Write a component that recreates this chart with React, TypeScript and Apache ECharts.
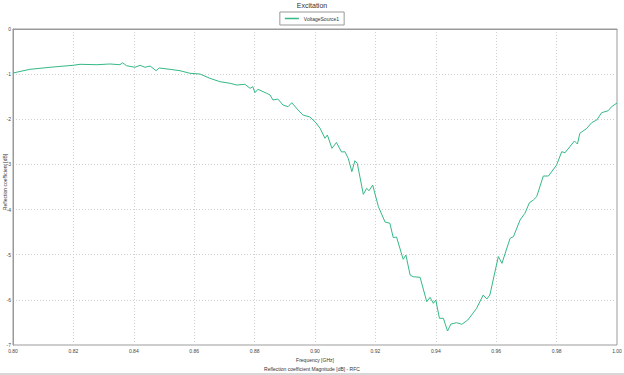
import React, { useEffect, useRef } from "react";
import * as echarts from "echarts";

const freqs = [
  0.8, 0.8056, 0.8123, 0.8199, 0.8222, 0.8278, 0.8321, 0.8354, 0.8363, 0.8376,
  0.8404, 0.8421, 0.8437, 0.8454, 0.8474, 0.8484, 0.852, 0.8553, 0.8586, 0.8619,
  0.8652, 0.8685, 0.8719, 0.8741, 0.8768, 0.8785, 0.8794, 0.8801, 0.8811, 0.884,
  0.8851, 0.8861, 0.8877, 0.8894, 0.8911, 0.8923, 0.8944, 0.896, 0.8983, 0.9,
  0.9017, 0.9033, 0.9041, 0.9056, 0.9071, 0.9088, 0.9099, 0.911, 0.9122, 0.9132,
  0.914, 0.916, 0.9171, 0.9179, 0.9191, 0.921, 0.9232, 0.9248, 0.9259, 0.927,
  0.9292, 0.9301, 0.9315, 0.9325, 0.9348, 0.937, 0.9381, 0.9392, 0.94, 0.9412,
  0.9425, 0.9439, 0.945, 0.9469, 0.9486, 0.9506, 0.9535, 0.9557, 0.9569, 0.9579,
  0.9607, 0.9619, 0.9646, 0.9657, 0.9679, 0.9695, 0.971, 0.9723, 0.9734, 0.9756,
  0.9773, 0.98, 0.9817, 0.9828, 0.9859, 0.9869, 0.9877, 0.99, 0.9916, 0.9933,
  0.9949, 0.9971, 0.9982, 1.0,
];

const magnitudes = [
  -0.975, -0.893, -0.848, -0.804, -0.782, -0.791, -0.775, -0.791, -0.747, -0.813,
  -0.848, -0.804, -0.848, -0.82, -0.924, -0.864, -0.893, -0.924, -0.981, -0.997,
  -1.092, -1.167, -1.203, -1.241, -1.225, -1.314, -1.278, -1.411, -1.336, -1.424,
  -1.462, -1.573, -1.551, -1.684, -1.721, -1.633, -1.794, -1.905, -1.95, -2.054,
  -2.2, -2.421, -2.348, -2.643, -2.514, -2.725, -2.718, -2.864, -3.161, -2.918,
  -2.975, -3.662, -3.529, -3.582, -3.456, -3.937, -4.276, -4.304, -4.619, -4.608,
  -5.102, -5.007, -5.45, -5.487, -5.501, -6.041, -5.944, -6.077, -6.004, -6.409,
  -6.409, -6.69, -6.535, -6.506, -6.542, -6.447, -6.188, -5.893, -5.981, -5.893,
  -5.04, -5.191, -4.637, -4.601, -4.231, -4.083, -3.848, -3.788, -3.715, -3.257,
  -3.257, -3.013, -2.718, -2.74, -2.481, -2.548, -2.311, -2.2, -2.076, -2.016,
  -1.854, -1.81, -1.721, -1.639,
];

const chartTitle = "Excitation";
const seriesName = "VoltageSource1";
const xAxisName = "Frequency [GHz]";
const yAxisName = "Reflection coefficient [dB]";
const footerText = "Reflection coefficient Magnitude [dB] - RFC";

export default function App() {
  const ref = useRef<HTMLDivElement>(null);

  useEffect(() => {
    if (!ref.current) return;
    const chart = echarts.init(ref.current, undefined, { renderer: "svg" });
    const data = freqs.map((f, i) => [f, magnitudes[i]]);
    const font = "Liberation Sans, Arial, sans-serif";
    chart.setOption({
      animation: false,
      backgroundColor: "#ffffff",
      title: {
        text: chartTitle,
        left: "center",
        top: 2,
        padding: 0,
        textStyle: { fontSize: 7, fontWeight: "normal", color: "#333", fontFamily: font },
      },
      legend: {
        top: 12,
        left: "center",
        data: [{ name: seriesName, icon: "rect" }],
        itemWidth: 14,
        itemHeight: 1.5,
        itemGap: 4,
        borderColor: "#999",
        borderWidth: 1,
        padding: [4, 5],
        textStyle: { fontSize: 5, color: "#333", fontFamily: font },
      },
      grid: {
        left: 13,
        right: 7,
        top: 29,
        bottom: 30,
        outerBoundsMode: "none",
        containLabel: false,
        show: true,
        borderColor: "#9a9a9a",
        borderWidth: 1,
      },
      xAxis: {
        type: "value",
        min: 0.8,
        max: 1.0,
        interval: 0.02,
        name: xAxisName,
        nameLocation: "middle",
        nameGap: 10,
        nameTextStyle: { fontSize: 5, color: "#333", fontFamily: font },
        axisLine: { show: true, lineStyle: { color: "#9a9a9a" } },
        axisTick: { show: false },
        axisLabel: {
          fontSize: 5,
          color: "#444",
          margin: 3,
          fontFamily: font,
          formatter: (v: number) => v.toFixed(2),
        },
        splitLine: { show: true, lineStyle: { color: "#cfcfcf", type: [1, 2], width: 1 } },
      },
      yAxis: {
        type: "value",
        min: -7,
        max: 0,
        interval: 1,
        axisLine: { show: true, lineStyle: { color: "#9a9a9a" } },
        axisTick: { show: false },
        axisLabel: { fontSize: 5, color: "#444", margin: 2, fontFamily: font },
        splitLine: { show: true, lineStyle: { color: "#cfcfcf", type: [1, 2], width: 1 } },
      },
      graphic: [
        {
          type: "text",
          x: 5,
          y: 182,
          rotation: Math.PI / 2,
          style: {
            text: yAxisName,
            fontSize: 5,
            fill: "#333",
            fontFamily: font,
            align: "center",
            verticalAlign: "middle",
          },
        },
        {
          type: "text",
          left: "center",
          top: 366,
          style: { text: footerText, fontSize: 5, fill: "#333", fontFamily: font },
        },
        {
          type: "rect",
          left: 0,
          top: 373,
          shape: { width: 624, height: 2 },
          style: { fill: "#d8d8d8" },
        },
      ],
      series: [
        {
          name: seriesName,
          type: "line",
          data,
          showSymbol: false,
          symbol: "none",
          lineStyle: { color: "#35b985", width: 1 },
          itemStyle: { color: "#35b985" },
        },
      ],
    });
    return () => chart.dispose();
  }, []);

  return (
    <div
      ref={ref}
      style={{ position: "absolute", left: 0, top: 0, width: 624, height: 375 }}
    />
  );
}
